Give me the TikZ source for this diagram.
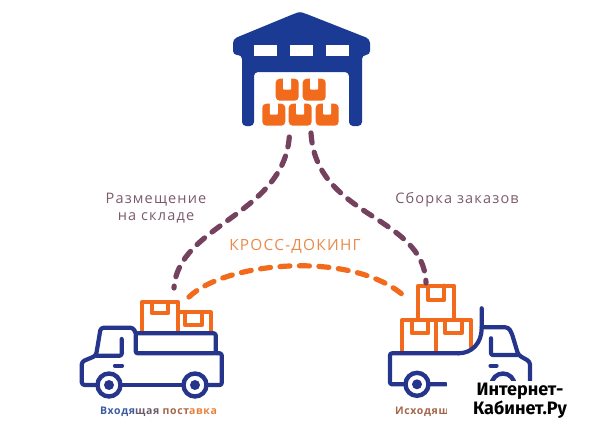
\documentclass[tikz,border=0pt]{standalone}
\usepackage{fontspec}
\setmainfont{Open Sans}
\newfontfamily\markfont{Fira Sans}
\newfontfamily\wideface[LetterSpace=8]{Open Sans}
\newfontfamily\nameface[LetterSpace=6]{Open Sans}
\definecolor{navy}{HTML}{1B3A93}
\definecolor{truckblue}{HTML}{26358C}
\definecolor{boxorange}{HTML}{F26B1D}
\definecolor{dashplum}{HTML}{74425E}
\definecolor{labelplum}{HTML}{7A5A6C}
\definecolor{labelorange}{HTML}{E88A4A}
\definecolor{midblue}{HTML}{3C5AA0}
\definecolor{midgrey}{HTML}{6A5A6A}
\definecolor{midbrown}{HTML}{A5654A}
\definecolor{endorange}{HTML}{E8803A}
\begin{document}
\begin{tikzpicture}[x=1pt,y=-1pt,
  truckline/.style = {draw=truckblue, line width=4.2pt, line join=round, line cap=round},
  cargo/.style = {draw=boxorange, line width=4.2pt, line join=round, line cap=round},
  track/.style = {dashplum, line width=5.2pt, line cap=round, dash pattern=on 10pt off 9.5pt},
  cross/.style = {boxorange, line width=5.2pt, line cap=round, dash pattern=on 10pt off 9.5pt},
  caption/.style = {text=labelplum, font=\wideface\fontsize{14.5}{17}\selectfont, align=center, inner sep=0pt},
  crate/.style = {fill=boxorange, rounded corners=4pt},
  wheel/.style = {draw=truckblue, line width=4.4pt, fill=white, circle, minimum size=23pt, inner sep=0pt},
  hub/.style = {fill=truckblue, circle, minimum size=10pt, inner sep=0pt}]
\useasboundingbox (0,0) rectangle (603,429);
% warehouse
\fill[navy, rounded corners=4pt] (233,39) -- (296,13) -- (300,12) -- (304,13) -- (370,39) -- (370,55) -- (362,55)
  -- (362,126) -- (349,126) -- (349,72) -- (254,72) -- (254,126) -- (242,126) -- (242,55) -- (233,55) -- cycle;
\foreach \x in {254,290,326}
  \fill[white] (\x,45) rectangle +(23,11);
\foreach \x/\y in {275.7/78.7,302.7/78.7,262.3/103.7,288.7/103.7,315.7/103.7} {
  \fill[crate] (\x,\y) rectangle +(23,22);
  \fill[white, rounded corners=1pt] (\x+7.5,\y-1) rectangle +(8,12);
}
\coordinate (depotL) at (289.3,137);
\coordinate (depotR) at (311,133);
% incoming truck
\draw[cargo] (141.7,331.7) -- (141.7,302.3) -- (178.3,302.3) -- (178.3,331.7);
\draw[cargo] (151.7,302.3) -- (151.7,313) -- (168.3,313) -- (168.3,302.3);
\draw[cargo] (178.3,312.3) -- (210.7,312.3) -- (210.7,331.7);
\draw[cargo] (185,312.3) -- (185,325) -- (201.7,325) -- (201.7,312.3);
\draw[truckline, rounded corners=3pt] (96.7,385) -- (81.7,385) -- (81.7,361.7) -- (96,355.7) -- (100.7,327.7) -- (133.3,327.7) -- (135.7,333.3);
\draw[truckline, rounded corners=2pt] (135.7,333.3) -- (215.7,333.3) -- (215.7,353.3) -- (135.7,353.3) -- cycle;
\draw[truckline, rounded corners=2pt] (96,355.7) -- (121.7,355.7) -- (121.7,339);
\draw[truckline, rounded corners=2pt] (215.7,353.3) -- (221.7,353.3) -- (221.7,385) -- (208,385);
\draw[truckline] (121.7,385) -- (181.7,385);
\draw[truckline] (115,365.7) -- (122,365.7);
\node[wheel] (wheelA) at (109,385) {};
\node[hub] at (wheelA) {};
\node[wheel] (wheelB) at (195,385) {};
\node[hub] at (wheelB) {};
\coordinate (inTop) at (174,288);
\coordinate (inCross) at (189,297);
% outgoing truck
\draw[cargo] (418.3,318.3) -- (418.3,285.7) -- (454,285.7) -- (454,318.3);
\draw[cargo] (428.3,285.7) -- (428.3,300) -- (444,300) -- (444,285.7);
\draw[cargo] (402.3,351.7) -- (402.3,320) -- (470.7,320) -- (470.7,346.7);
\draw[cargo] (436,320) -- (436,351.7);
\draw[cargo] (411.7,320) -- (411.7,333) -- (428.3,333) -- (428.3,320);
\draw[cargo] (445,320) -- (445,333) -- (461.7,333) -- (461.7,320);
\draw[truckline, rounded corners=2pt] (446,384.3) -- (390,384.3) -- (390,353.3) -- (458.3,353.3);
\draw[truckline] (458.3,353.3) .. controls (472,353.3) and (481.7,343) .. (481.7,328) -- (481.7,308.3);
\draw[truckline, rounded corners=3pt] (481.7,327.3) -- (508.3,327.3) -- (511.7,333) -- (518.3,355) -- (530,361.7) -- (530,390);
\draw[truckline, rounded corners=2pt] (491,338.3) -- (491,355) -- (518.3,355);
\draw[truckline] (490.5,365.7) -- (496.5,365.7);
\node[wheel] (wheelC) at (417,384.3) {};
\node[hub] at (wheelC) {};
\node[wheel] (wheelD) at (503,385) {};
\coordinate (outTop) at (426,283);
\coordinate (outCross) at (403,295);
% routes
\path[track, draw] (depotL) .. controls (283,215) and (178,225) .. (inTop);
\path[track, draw] (depotR) .. controls (316,218) and (424,215) .. (outTop);
\path[cross, draw] (inCross) .. controls (225,262) and (350,250) .. (outCross);
% texts
\node[caption] (stock) at (156,208) {Размещение\\на складе};
\node[caption] (pick) at (457,200) {Сборка заказов};
\node[caption, text=labelorange, font=\wideface\fontsize{15.4}{18}\selectfont] (crossdock) at (295,246) {КРОСС-ДОКИНГ};
\node[inner sep=0pt, font=\nameface\fontsize{10.5}{12}\bfseries\selectfont] (inName) at (158.5,412)
  {\textcolor{midblue}{Входя}\textcolor{midgrey}{щая }\textcolor{midbrown}{пост}\textcolor{endorange}{авка}};
\node[inner sep=0pt, anchor=west, font=\nameface\fontsize{10.5}{12}\bfseries\selectfont, text=midbrown] (outName) at (395,412) {Исходящ};
% watermark
\fill[white] (447,381) rectangle (603,429);
\node[inner sep=0pt, align=center, text=black, font=\markfont\fontsize{18}{16.5}\bfseries\selectfont] (mark) at (520,400.5) {Интернет-\\Кабинет.Ру};
\end{tikzpicture}
\end{document}
